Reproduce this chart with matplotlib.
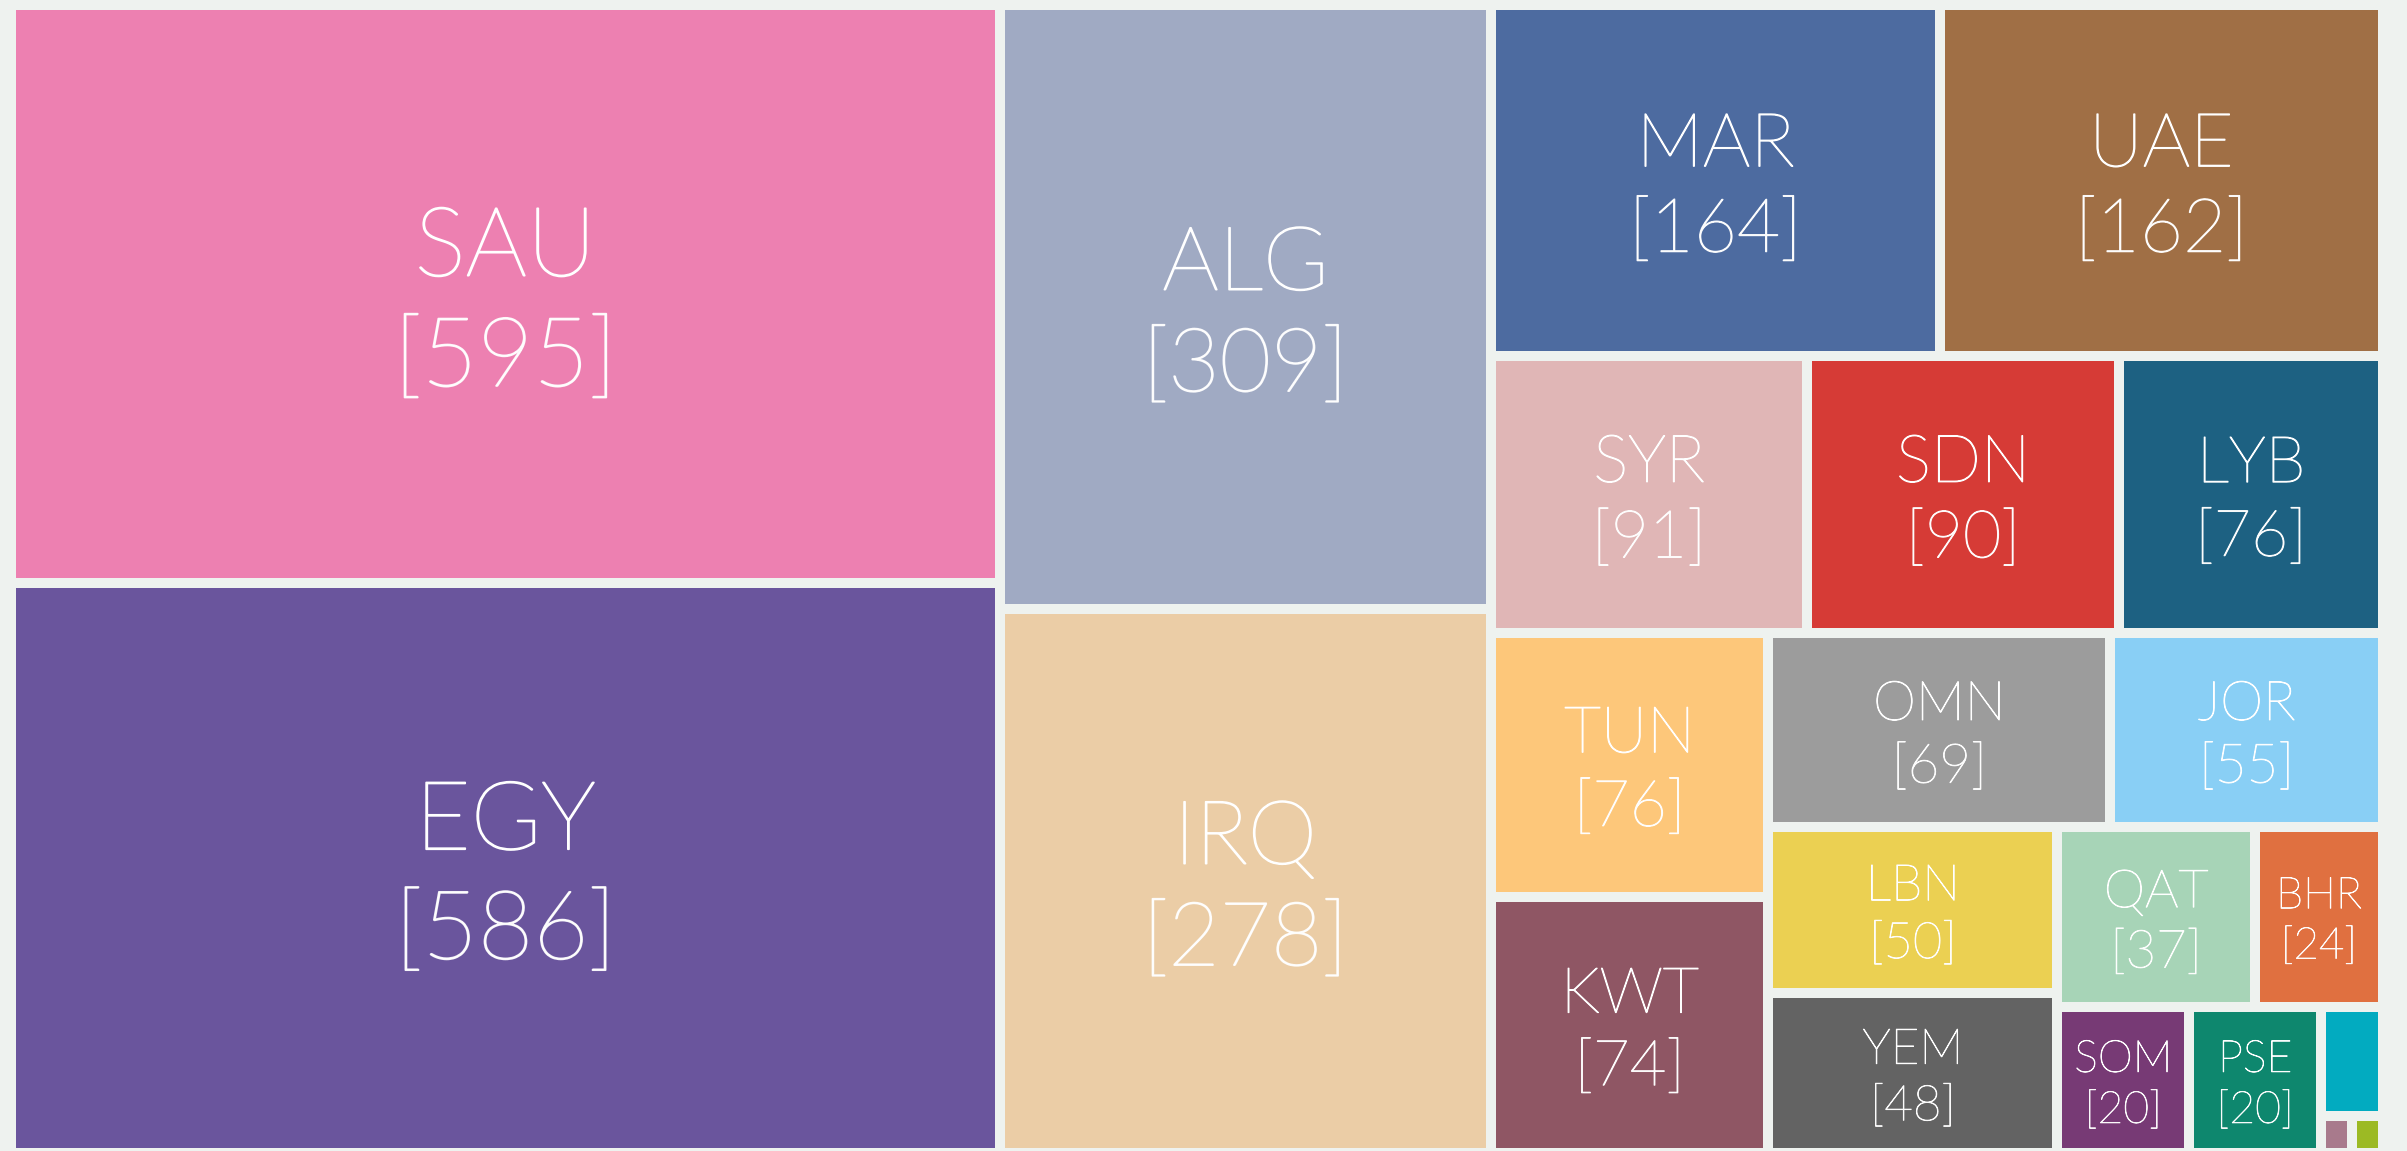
import matplotlib
matplotlib.use("Agg")
import matplotlib.pyplot as plt
from matplotlib.patches import Rectangle
import matplotlib.patheffects as pe
import numpy as np

# ---- data ----
names = ["SAU", "EGY", "ALG", "IRQ", "MAR", "UAE", "SYR", "SDN", "LYB", "TUN",
         "KWT", "OMN", "JOR", "LBN", "YEM", "QAT", "BHR", "SOM", "PSE",
         "MRT", "DJI", "COM"]
values = [595, 586, 309, 278, 164, 162, 91, 90, 76, 76,
          74, 69, 55, 50, 48, 37, 24, 20, 20,
          7, 1.2, 1.2]
colors = ["#ED80B1", "#6A559D", "#A0AAC3", "#EBCDA6", "#4D6BA0", "#A06F45",
          "#E0B6B6", "#D63B36", "#1D6182", "#FDC77A", "#8F5664", "#9C9C9C",
          "#89CFF5", "#EBD052", "#636363", "#A7D4B7", "#E07040", "#773A75",
          "#0E876E", "#02ABC0", "#A87A8C", "#9CBA24"]

# strips of the treemap: number of items in each strip, and whether the
# strip is stacked along the left ('col') or along the top ('row')
strip_sizes = [2, 2, 2, 3, 2, 2, 2, 2, 1, 1, 1, 1, 1]
strip_dirs = ["col", "col", "row", "row", "col", "row", "col", "row",
              "col", "col", "row", "col", "col"]

W, H = 2407, 1151
BG = "#EEF2EF"

fig = plt.figure(figsize=(W / 100, H / 100), dpi=100, facecolor=BG)
ax = fig.add_axes([0, 0, 1, 1])
ax.set_xlim(0, W)
ax.set_ylim(H, 0)
ax.axis("off")
ax.set_facecolor(BG)


def layout(vals, rect):
    x0, y0, x1, y1 = rect
    out = []
    i = 0
    for n, d in zip(strip_sizes, strip_dirs):
        grp = vals[i:i + n]
        rem = sum(vals[i:])
        frac = sum(grp) / rem
        if d == "col":
            w = (x1 - x0) * frac
            yy = y0
            for v in grp:
                h = (y1 - y0) * v / sum(grp)
                out.append((x0, yy, w, h))
                yy += h
            x0 += w
        else:
            h = (y1 - y0) * frac
            xx = x0
            for v in grp:
                w = (x1 - x0) * v / sum(grp)
                out.append((xx, y0, w, h))
                xx += w
            y0 += h
        i += n
    return out


rects = layout(values, (11, 5, 2383, 1153))
pad = 5
fam = ["Lato", "DejaVu Sans"]

for (x, y, w, h), nm, v, c in zip(rects, names, values, colors):
    ax.add_patch(Rectangle((x + pad, y + pad), w - 2 * pad, h - 2 * pad,
                           facecolor=c, edgecolor="none"))
    m = min(w, h) - 2 * pad
    if m < 90:
        continue
    caps = 2.89 * np.sqrt(m)
    fs = caps / (0.7165 * 100 / 72)
    lw = max(0.6, caps / 55)
    cx = x + w / 2
    cy = y + h / 2 + 0.15 * caps
    ax.text(cx, cy - 0.8 * caps, nm, ha="center", va="center", color="white",
            fontsize=fs, family=fam, fontweight="light",
            path_effects=[pe.withStroke(linewidth=lw, foreground="white")])
    ax.text(cx, cy + 0.8 * caps, f"[{v}]", ha="center", va="center",
            color="white", fontsize=fs, family=fam, fontweight="light",
            alpha=0.92,
            path_effects=[pe.withStroke(linewidth=lw, foreground="white",
                                        alpha=0.92)])

fig.savefig("out.png", dpi=100, facecolor=BG)
